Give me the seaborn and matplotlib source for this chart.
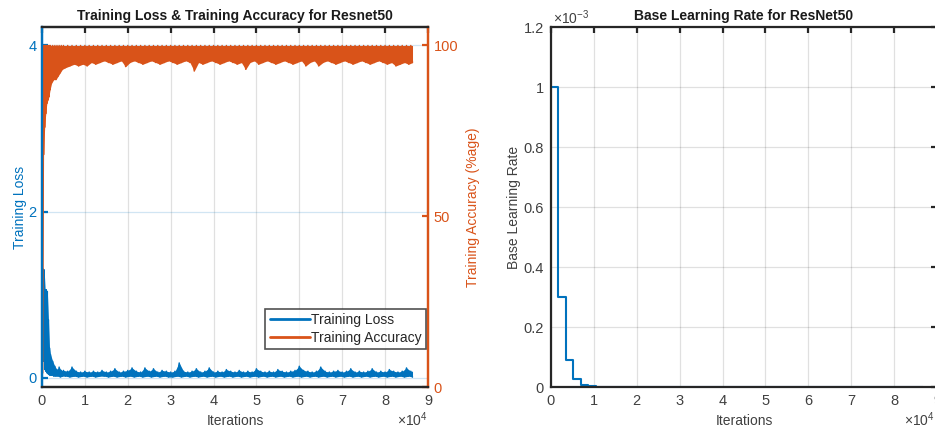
import numpy as np
import pandas as pd
import matplotlib
matplotlib.use("Agg")
import matplotlib.pyplot as plt
from matplotlib.ticker import FuncFormatter, MultipleLocator
from matplotlib.lines import Line2D
import seaborn as sns

# ---- data ----
# iteration samples (finer bins at the start, 1000-iteration bins afterwards)
iters = [0, 250, 500, 750, 1000, 1250, 1500, 1750, 2000, 2500, 3000, 3500, 4000, 4500] + \
        list(range(5000, 87000, 1000))

# per-bin max / min of the training loss
loss_hi = [1.32, 1.31, 1.30, 1.06, 1.06, 1.04, 0.70, 0.36, 0.28, 0.20, 0.14, 0.10, 0.13, 0.09,
           0.09, 0.08, 0.13, 0.08, 0.07, 0.08, 0.07, 0.08, 0.07, 0.09, 0.07, 0.08, 0.11, 0.07,
           0.08, 0.09, 0.12, 0.08, 0.07, 0.12, 0.08, 0.11, 0.07, 0.09, 0.08, 0.07, 0.08, 0.18,
           0.08, 0.07, 0.08, 0.11, 0.07, 0.08, 0.12, 0.07, 0.08, 0.07, 0.10, 0.08, 0.07, 0.09,
           0.07, 0.08, 0.07, 0.11, 0.08, 0.07, 0.08, 0.07, 0.10, 0.08, 0.07, 0.08, 0.09, 0.14,
           0.09, 0.08, 0.07, 0.08, 0.13, 0.08, 0.07, 0.08, 0.09, 0.07, 0.08, 0.11, 0.07, 0.08,
           0.07, 0.08, 0.11, 0.07, 0.08, 0.07, 0.10, 0.08, 0.07, 0.08, 0.12, 0.08]
loss_lo = [0.45, 0.20, 0.10, 0.08, 0.06, 0.05, 0.04, 0.03, 0.03, 0.02, 0.02, 0.02, 0.01, 0.02,
           0.02, 0.01, 0.02, 0.01, 0.02, 0.01, 0.02, 0.01, 0.02, 0.02, 0.01, 0.02, 0.01, 0.02,
           0.01, 0.02, 0.01, 0.02, 0.01, 0.02, 0.01, 0.02, 0.01, 0.02, 0.01, 0.01, 0.02, 0.01,
           0.02, 0.01, 0.02, 0.01, 0.02, 0.01, 0.02, 0.01, 0.02, 0.01, 0.02, 0.01, 0.02, 0.01,
           0.02, 0.01, 0.02, 0.01, 0.02, 0.01, 0.02, 0.01, 0.02, 0.01, 0.02, 0.01, 0.02, 0.01,
           0.02, 0.01, 0.02, 0.01, 0.02, 0.01, 0.02, 0.01, 0.02, 0.01, 0.02, 0.01, 0.02, 0.01,
           0.02, 0.01, 0.02, 0.01, 0.02, 0.01, 0.02, 0.01, 0.02, 0.01, 0.02, 0.01]

# per-bin max / min of the training accuracy (%)
acc_hi = [30.0, 100.0, 100.0, 100.0, 100.0, 100.0, 100.0, 100.0, 100.0, 100.0, 100.0, 100.0, 100.0, 100.0,
          100.0, 100.0, 100.0, 100.0, 100.0, 100.0, 100.0, 100.0, 100.0, 100.0, 100.0, 100.0, 100.0, 100.0,
          100.0, 100.0, 100.0, 100.0, 100.0, 100.0, 100.0, 100.0, 100.0, 100.0, 100.0, 100.0, 100.0, 100.0,
          100.0, 100.0, 100.0, 100.0, 100.0, 100.0, 100.0, 100.0, 100.0, 100.0, 100.0, 100.0, 100.0, 100.0,
          100.0, 100.0, 100.0, 100.0, 100.0, 100.0, 100.0, 100.0, 100.0, 100.0, 100.0, 100.0, 100.0, 100.0,
          100.0, 100.0, 100.0, 100.0, 100.0, 100.0, 100.0, 100.0, 100.0, 100.0, 100.0, 100.0, 100.0, 100.0,
          100.0, 100.0, 100.0, 100.0, 100.0, 100.0, 100.0, 100.0, 100.0, 100.0, 100.0, 100.0]
acc_lo = [4.0, 68.0, 76.0, 80.0, 83.0, 84.0, 85.0, 87.0, 89.0, 90.0, 90.0, 91.0, 92.0, 93.0,
          93.5, 94.0, 94.5, 94.0, 94.5, 94.0, 95.0, 94.5, 95.0, 95.5, 95.0, 94.5, 95.0, 95.5,
          93.8, 95.0, 95.5, 95.0, 94.5, 95.0, 95.5, 95.0, 94.5, 95.0, 95.5, 95.0, 94.5, 95.0,
          95.5, 95.0, 92.5, 95.0, 94.5, 95.0, 95.5, 95.0, 94.5, 95.0, 95.5, 95.0, 94.5, 95.0,
          93.0, 95.0, 95.5, 94.5, 95.0, 95.5, 95.0, 94.5, 95.0, 95.5, 95.0, 94.5, 95.0, 95.5,
          94.0, 95.0, 95.5, 94.0, 95.0, 95.5, 95.0, 94.5, 95.0, 95.5, 95.0, 94.5, 95.0, 95.5,
          95.0, 94.5, 95.0, 95.5, 95.0, 94.5, 95.0, 94.0, 94.5, 95.0, 94.5, 95.0]
last_iter = 86800

# base learning rate schedule (piecewise constant)
lr_iters = [0, 1740, 3470, 5210, 6940, 8680, 10420, 12150, 86800]
lr_values = [1e-3, 3e-4, 9e-5, 2.7e-5, 8.1e-6, 2.4e-6, 7.3e-7, 2.2e-7, 2.2e-7]

# ---- build zig-zag traces (max at bin start, min at bin middle) ----
edges = np.array(iters + [last_iter], dtype=float)
starts = edges[:-1]
mids = (edges[:-1] + edges[1:]) / 2
zx = np.ravel(np.column_stack([starts, mids]))
loss_df = pd.DataFrame({"it": zx, "v": np.ravel(np.column_stack([loss_hi, loss_lo]))})
acc_df = pd.DataFrame({"it": zx, "v": np.ravel(np.column_stack([acc_hi, acc_lo]))})
lr_df = pd.DataFrame({"it": lr_iters, "lr": lr_values})

BLUE = "#0072BD"
ORANGE = "#D95319"
AXC = "#262626"
TXT = "#404040"

sns.set_theme(style="white")
plt.rcParams["font.family"] = ["Liberation Sans", "DejaVu Sans"]
plt.rcParams["mathtext.fontset"] = "custom"
plt.rcParams["mathtext.rm"] = "Liberation Sans"
plt.rcParams["mathtext.it"] = "Liberation Sans"

fig = plt.figure(figsize=(9.35, 4.33), dpi=100)
ax1 = fig.add_axes([0.0449, 0.1062, 0.4128, 0.8314])
ax1b = ax1.twinx()
ax2 = fig.add_axes([0.5893, 0.1062, 0.4128, 0.8314])

xfmt = FuncFormatter(lambda v, p: f"{v / 1e4:g}")

# ---- left: loss & accuracy ----
# dense noisy traces: band between per-bin min and max, plus the zig-zag line
ax1.fill_between(zx, np.interp(zx, mids, loss_lo), np.interp(zx, starts, loss_hi),
                 color=BLUE, lw=0)
ax1b.fill_between(zx, np.interp(zx, mids, acc_lo), np.interp(zx, starts, acc_hi),
                  color=ORANGE, lw=0)
sns.lineplot(data=loss_df, x="it", y="v", ax=ax1, color=BLUE, lw=1.0,
             estimator=None, sort=False)
sns.lineplot(data=acc_df, x="it", y="v", ax=ax1b, color=ORANGE, lw=1.0,
             estimator=None, sort=False)
ax1.set_xlim(0, 90000)
ax1.set_ylim(-0.11, 4.22)
ax1b.set_ylim(0, 105.4)
ax1.xaxis.set_major_locator(MultipleLocator(10000))
ax1.xaxis.set_major_formatter(xfmt)
ax1.set_yticks([0, 2, 4])
ax1.set_yticklabels(["0", "2", "4"])
ax1b.set_yticks([0, 50, 100])
ax1b.set_yticklabels(["0", "50", "100"])
ax1.xaxis.grid(True, color="black", alpha=0.12, lw=0.9)
ax1.yaxis.grid(True, color=BLUE, alpha=0.18, lw=0.9)
ax1.set_axisbelow(True)

ax1.set_xlabel("Iterations", fontsize=10, color=TXT, labelpad=4)
ax1.set_ylabel("Training Loss", fontsize=10, color=BLUE, labelpad=1)
ax1b.set_ylabel("Training Accuracy (%age)", fontsize=10, color=ORANGE, labelpad=6)
ax1.set_title("Training Loss & Training Accuracy for Resnet50", fontsize=10,
              fontweight="bold", color="#1a1a1a", pad=5)
ax1.text(1.0, -0.09, r"$\times10^{4}$", transform=ax1.transAxes, ha="right",
         va="center", fontsize=10, color=TXT)

for sp in ["top", "bottom"]:
    ax1.spines[sp].set_color(AXC)
    ax1b.spines[sp].set_color(AXC)
ax1.spines["left"].set_color(BLUE)
ax1b.spines["left"].set_color(BLUE)
ax1.spines["right"].set_color(ORANGE)
ax1b.spines["right"].set_color(ORANGE)
for a in (ax1, ax1b):
    for sp in a.spines.values():
        sp.set_linewidth(1.6)
ax1.tick_params(axis="x", direction="in", length=4, width=1.6, colors=AXC,
                labelcolor=TXT, labelsize=10.5, top=True, pad=5)
ax1.tick_params(axis="y", direction="in", length=4, width=1.6, colors=BLUE,
                labelsize=10.5, pad=4)
ax1b.tick_params(axis="y", direction="in", length=4, width=1.6, colors=ORANGE,
                 labelsize=10.5, pad=4)

handles = [Line2D([], [], color=BLUE, lw=2), Line2D([], [], color=ORANGE, lw=2)]
leg = ax1b.legend(handles, ["Training Loss", "Training Accuracy"], loc="lower right",
                  bbox_to_anchor=(0.995, 0.105), fontsize=10, frameon=True, fancybox=False,
                  handlelength=2.9, handletextpad=0.1, borderpad=0.3, labelspacing=0.3,
                  borderaxespad=0)
leg.get_frame().set_edgecolor(AXC)
leg.get_frame().set_linewidth(1.2)
for t in leg.get_texts():
    t.set_color(AXC)

# ---- right: base learning rate ----
sns.lineplot(data=lr_df, x="it", y="lr", ax=ax2, color=BLUE, lw=1.5,
             drawstyle="steps-post", estimator=None)
ax2.set_xlim(0, 90000)
ax2.set_ylim(0, 1.2e-3)
ax2.xaxis.set_major_locator(MultipleLocator(10000))
ax2.xaxis.set_major_formatter(xfmt)
ax2.yaxis.set_major_locator(MultipleLocator(2e-4))
ax2.yaxis.set_major_formatter(FuncFormatter(lambda v, p: f"{round(v * 1e3, 1):g}"))
ax2.grid(True, color="black", alpha=0.12, lw=0.9)
ax2.set_axisbelow(True)
for sp in ax2.spines.values():
    sp.set_color(AXC)
    sp.set_linewidth(1.6)
ax2.tick_params(axis="both", direction="in", length=4, width=1.6, colors=AXC,
                labelcolor=TXT, labelsize=10.5, top=True, right=True, pad=5)
ax2.set_xlabel("Iterations", fontsize=10, color=TXT, labelpad=4)
ax2.set_ylabel("Base Learning Rate", fontsize=10, color=TXT, labelpad=2)
ax2.set_title("Base Learning Rate for ResNet50", fontsize=10, fontweight="bold",
              color="#1a1a1a", pad=5)
ax2.text(0.005, 1.025, r"$\times10^{-3}$", transform=ax2.transAxes, ha="left",
         va="center", fontsize=10, color=TXT)
ax2.text(0.915, -0.09, r"$\times10^{4}$", transform=ax2.transAxes, ha="left",
         va="center", fontsize=10, color=TXT)

fig.savefig("out.png", dpi=100)
